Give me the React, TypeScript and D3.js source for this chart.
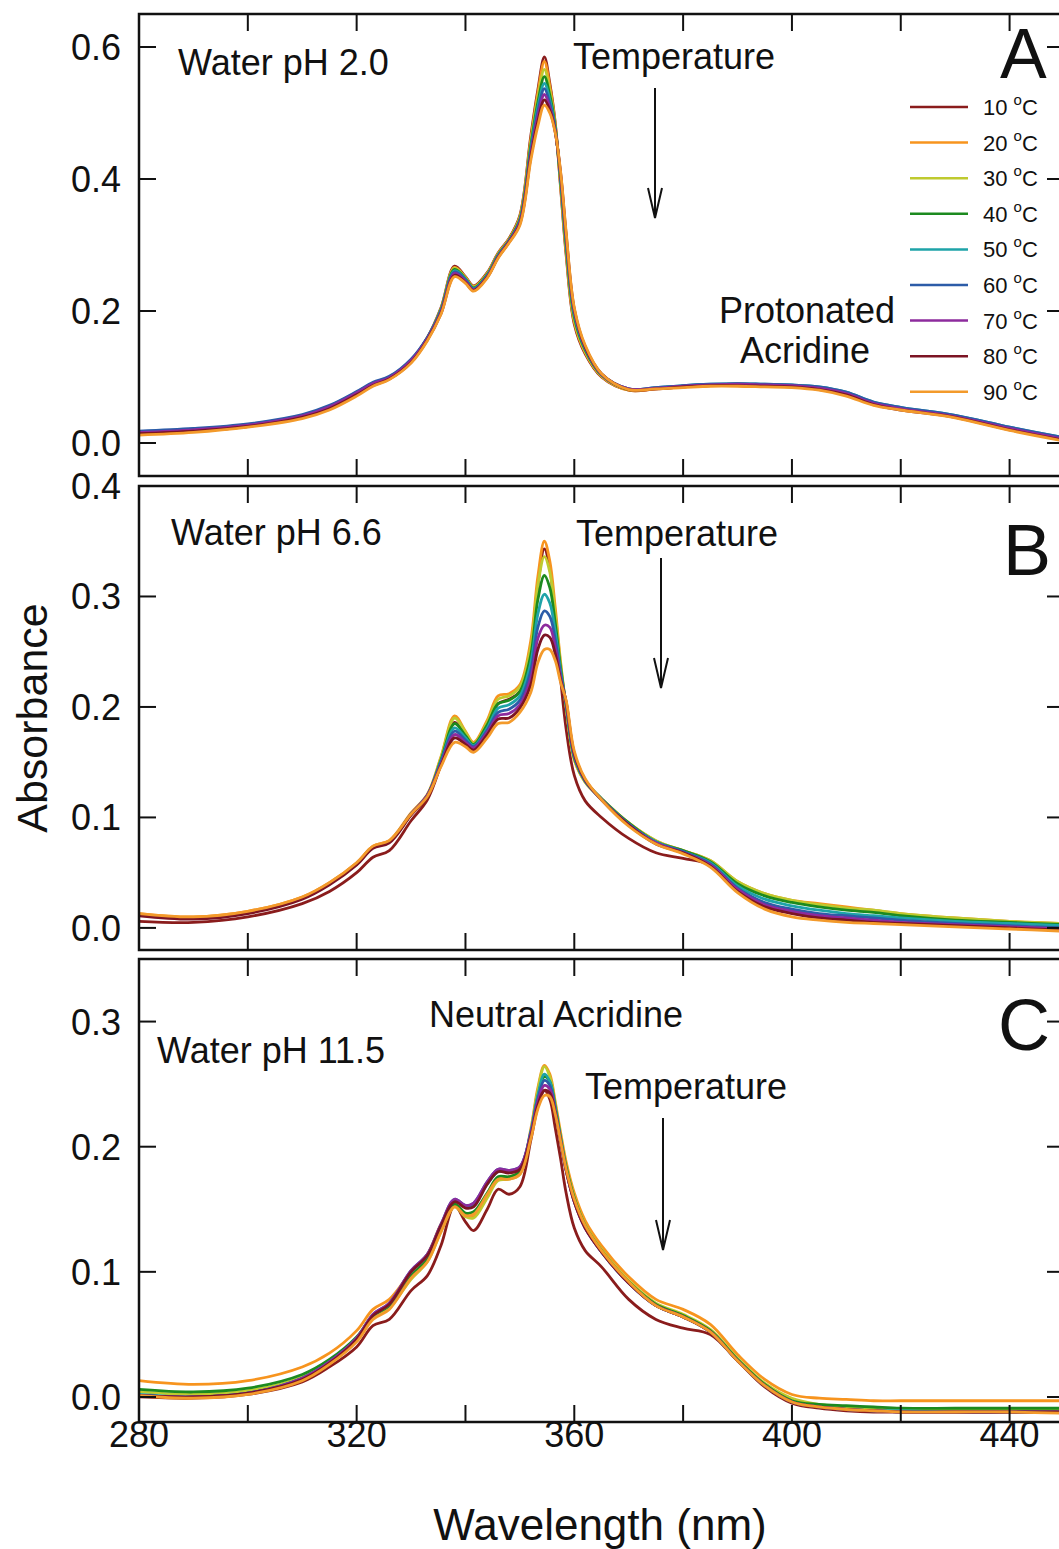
import React from 'react';
import * as d3 from 'd3';

// ---------- data ----------
const WAVELENGTHS = [280, 290, 300, 310, 315, 320, 323, 326, 330, 333, 335.5, 338, 340, 341.5, 344, 346, 348, 350, 352, 353.3, 354.5, 355.5, 356.5, 357.5, 358.5, 360, 362, 365, 370, 375, 380, 385, 390, 395, 400, 405, 410, 415, 420, 430, 440, 450];

const TEMPERATURES = ['10', '20', '30', '40', '50', '60', '70', '80', '90'];
const TEMP_COLORS = ['#8a1c1c', '#f7941e', '#bfca2f', '#1c8a1f', '#1ea3a8', '#2c5ca8', '#8d2b9d', '#7c1424', '#f39a2b'];

const X_TICKS = [300, 320, 340, 360, 380, 400, 420, 440];
const X_TICK_LABELS = [280, 320, 360, 400, 440];

// Panel A: water pH 2.0
const A_10 = [0.016,0.020,0.027,0.041,0.055,0.076,0.090,0.099,0.125,0.160,0.205,0.268,0.252,0.238,0.258,0.288,0.310,0.345,0.465,0.535,0.585,0.545,0.485,0.385,0.285,0.180,0.135,0.100,0.080,0.082,0.085,0.087,0.088,0.087,0.086,0.083,0.075,0.060,0.052,0.040,0.022,0.006];
const A_20 = [0.014,0.018,0.025,0.039,0.053,0.074,0.088,0.097,0.123,0.158,0.203,0.266,0.251,0.237,0.257,0.287,0.309,0.343,0.460,0.530,0.578,0.541,0.483,0.388,0.289,0.183,0.137,0.101,0.080,0.082,0.085,0.087,0.088,0.087,0.086,0.083,0.075,0.060,0.052,0.040,0.022,0.006];
const A_30 = [0.015,0.019,0.026,0.040,0.054,0.075,0.089,0.098,0.124,0.159,0.203,0.265,0.250,0.236,0.256,0.286,0.308,0.341,0.455,0.523,0.566,0.534,0.480,0.392,0.294,0.187,0.139,0.102,0.081,0.083,0.086,0.088,0.089,0.088,0.087,0.084,0.076,0.061,0.053,0.041,0.022,0.006];
const A_40 = [0.016,0.020,0.027,0.041,0.055,0.076,0.090,0.099,0.125,0.159,0.202,0.263,0.249,0.235,0.255,0.285,0.307,0.339,0.450,0.516,0.555,0.527,0.478,0.396,0.299,0.191,0.141,0.103,0.081,0.083,0.086,0.088,0.089,0.088,0.087,0.084,0.076,0.061,0.053,0.041,0.023,0.007];
const A_50 = [0.017,0.021,0.028,0.042,0.056,0.077,0.091,0.100,0.126,0.159,0.201,0.261,0.248,0.234,0.254,0.284,0.306,0.337,0.445,0.509,0.545,0.520,0.476,0.399,0.304,0.195,0.143,0.104,0.082,0.084,0.087,0.089,0.090,0.089,0.088,0.085,0.077,0.062,0.054,0.042,0.024,0.008];
const A_60 = [0.018,0.022,0.029,0.043,0.057,0.078,0.092,0.101,0.127,0.160,0.200,0.259,0.247,0.233,0.253,0.283,0.306,0.336,0.441,0.502,0.537,0.514,0.474,0.402,0.309,0.198,0.144,0.104,0.082,0.084,0.087,0.089,0.090,0.089,0.088,0.085,0.077,0.062,0.054,0.042,0.024,0.008];
const A_70 = [0.016,0.020,0.027,0.041,0.055,0.076,0.090,0.099,0.125,0.158,0.198,0.257,0.245,0.232,0.252,0.282,0.305,0.334,0.437,0.495,0.528,0.508,0.472,0.405,0.313,0.200,0.145,0.104,0.082,0.083,0.086,0.088,0.089,0.088,0.087,0.083,0.075,0.060,0.052,0.040,0.022,0.006];
const A_80 = [0.014,0.018,0.025,0.039,0.052,0.073,0.087,0.097,0.122,0.156,0.196,0.254,0.243,0.231,0.251,0.281,0.304,0.332,0.433,0.487,0.520,0.504,0.471,0.408,0.317,0.203,0.146,0.105,0.081,0.082,0.085,0.087,0.087,0.086,0.085,0.081,0.073,0.058,0.050,0.039,0.020,0.004];
const A_90 = [0.012,0.016,0.024,0.037,0.050,0.071,0.086,0.096,0.121,0.155,0.195,0.252,0.242,0.230,0.250,0.280,0.303,0.330,0.428,0.480,0.512,0.500,0.470,0.410,0.320,0.205,0.148,0.105,0.081,0.082,0.084,0.086,0.086,0.085,0.084,0.080,0.071,0.057,0.050,0.038,0.019,0.003];

// Panel B: water pH 6.6
const B_10 = [0.006,0.005,0.010,0.022,0.033,0.050,0.064,0.070,0.097,0.116,0.148,0.186,0.175,0.166,0.183,0.203,0.207,0.214,0.255,0.310,0.343,0.325,0.280,0.225,0.180,0.138,0.115,0.100,0.081,0.068,0.063,0.057,0.036,0.022,0.015,0.011,0.008,0.006,0.004,0.002,0.000,-0.002];
const B_20 = [0.013,0.010,0.015,0.028,0.041,0.059,0.074,0.079,0.104,0.121,0.155,0.192,0.178,0.168,0.188,0.210,0.212,0.220,0.260,0.318,0.350,0.332,0.290,0.240,0.200,0.152,0.132,0.117,0.095,0.079,0.070,0.061,0.042,0.031,0.025,0.022,0.019,0.016,0.013,0.009,0.006,0.004];
const B_30 = [0.012,0.009,0.014,0.027,0.040,0.058,0.073,0.078,0.103,0.120,0.154,0.190,0.177,0.167,0.186,0.207,0.210,0.218,0.254,0.310,0.336,0.322,0.284,0.238,0.200,0.153,0.132,0.117,0.095,0.079,0.070,0.061,0.042,0.031,0.025,0.021,0.018,0.016,0.013,0.009,0.006,0.004];
const B_40 = [0.012,0.009,0.014,0.027,0.040,0.058,0.073,0.078,0.103,0.120,0.152,0.185,0.174,0.166,0.184,0.203,0.206,0.214,0.247,0.297,0.319,0.308,0.276,0.235,0.201,0.154,0.133,0.117,0.095,0.078,0.070,0.060,0.040,0.029,0.023,0.019,0.016,0.014,0.011,0.007,0.005,0.003];
const B_50 = [0.012,0.009,0.014,0.027,0.040,0.058,0.073,0.078,0.103,0.120,0.151,0.181,0.172,0.165,0.181,0.199,0.202,0.210,0.240,0.284,0.302,0.294,0.268,0.232,0.202,0.155,0.133,0.117,0.094,0.078,0.069,0.059,0.038,0.026,0.020,0.016,0.013,0.011,0.009,0.006,0.004,0.002];
const B_60 = [0.012,0.009,0.014,0.027,0.040,0.058,0.073,0.078,0.103,0.120,0.150,0.178,0.170,0.164,0.179,0.195,0.198,0.206,0.233,0.272,0.287,0.282,0.261,0.229,0.203,0.156,0.133,0.116,0.094,0.077,0.069,0.058,0.036,0.023,0.017,0.013,0.011,0.009,0.007,0.004,0.002,0.000];
const B_70 = [0.012,0.009,0.014,0.027,0.040,0.058,0.073,0.078,0.103,0.120,0.148,0.175,0.168,0.163,0.177,0.192,0.194,0.202,0.226,0.262,0.274,0.272,0.254,0.226,0.204,0.157,0.134,0.116,0.093,0.077,0.068,0.057,0.035,0.021,0.015,0.011,0.009,0.007,0.005,0.003,0.001,-0.001];
const B_80 = [0.011,0.008,0.013,0.026,0.039,0.057,0.072,0.077,0.102,0.119,0.147,0.172,0.166,0.161,0.175,0.189,0.190,0.199,0.220,0.252,0.265,0.263,0.248,0.224,0.205,0.158,0.134,0.116,0.093,0.076,0.068,0.056,0.033,0.019,0.013,0.009,0.007,0.005,0.004,0.002,0.000,-0.002];
const B_90 = [0.013,0.010,0.015,0.028,0.041,0.059,0.074,0.079,0.103,0.119,0.146,0.168,0.164,0.159,0.172,0.185,0.186,0.195,0.213,0.240,0.252,0.252,0.242,0.222,0.206,0.160,0.135,0.116,0.092,0.076,0.067,0.055,0.032,0.017,0.010,0.007,0.005,0.004,0.003,0.001,-0.001,-0.003];

// Panel C: water pH 11.5
const C_10 = [0.000,-0.001,0.002,0.012,0.024,0.040,0.057,0.062,0.085,0.097,0.121,0.153,0.140,0.133,0.150,0.166,0.162,0.168,0.205,0.232,0.245,0.238,0.215,0.190,0.163,0.135,0.117,0.104,0.078,0.062,0.055,0.050,0.029,0.008,-0.005,-0.009,-0.011,-0.012,-0.012,-0.012,-0.012,-0.012];
const C_20 = [0.013,0.010,0.013,0.024,0.035,0.053,0.070,0.078,0.100,0.114,0.138,0.154,0.146,0.144,0.160,0.175,0.176,0.180,0.214,0.247,0.265,0.258,0.236,0.211,0.188,0.163,0.141,0.121,0.096,0.078,0.070,0.058,0.034,0.014,0.002,-0.001,-0.002,-0.003,-0.003,-0.003,-0.003,-0.003];
const C_30 = [0.004,0.002,0.005,0.016,0.028,0.046,0.063,0.071,0.094,0.108,0.132,0.152,0.144,0.143,0.159,0.173,0.174,0.178,0.212,0.245,0.264,0.256,0.234,0.208,0.185,0.160,0.138,0.118,0.093,0.075,0.066,0.054,0.031,0.011,-0.001,-0.006,-0.008,-0.009,-0.010,-0.010,-0.010,-0.010];
const C_40 = [0.006,0.004,0.007,0.018,0.030,0.048,0.065,0.073,0.097,0.110,0.134,0.154,0.147,0.148,0.163,0.176,0.176,0.180,0.210,0.240,0.256,0.252,0.232,0.207,0.184,0.159,0.137,0.117,0.092,0.074,0.065,0.053,0.030,0.010,-0.003,-0.006,-0.007,-0.008,-0.009,-0.009,-0.009,-0.009];
const C_50 = [0.002,0.000,0.003,0.015,0.028,0.047,0.065,0.074,0.100,0.113,0.137,0.157,0.152,0.154,0.170,0.180,0.180,0.183,0.212,0.241,0.258,0.252,0.231,0.206,0.182,0.157,0.136,0.116,0.091,0.073,0.064,0.052,0.029,0.009,-0.004,-0.008,-0.010,-0.011,-0.011,-0.012,-0.012,-0.012];
const C_60 = [0.001,0.000,0.003,0.015,0.028,0.047,0.066,0.075,0.101,0.114,0.138,0.158,0.153,0.155,0.172,0.182,0.181,0.184,0.211,0.238,0.253,0.249,0.229,0.205,0.181,0.156,0.135,0.116,0.091,0.073,0.064,0.052,0.029,0.009,-0.004,-0.008,-0.010,-0.011,-0.012,-0.012,-0.012,-0.012];
const C_70 = [0.001,0.000,0.003,0.015,0.028,0.047,0.066,0.075,0.101,0.114,0.138,0.158,0.153,0.155,0.172,0.182,0.181,0.184,0.210,0.236,0.249,0.246,0.228,0.204,0.181,0.156,0.135,0.116,0.091,0.073,0.064,0.052,0.029,0.009,-0.004,-0.008,-0.010,-0.011,-0.012,-0.012,-0.012,-0.012];
const C_80 = [0.001,0.000,0.003,0.014,0.027,0.046,0.065,0.074,0.100,0.113,0.137,0.156,0.151,0.152,0.170,0.180,0.179,0.182,0.208,0.233,0.245,0.243,0.227,0.204,0.181,0.156,0.135,0.116,0.091,0.073,0.064,0.052,0.029,0.009,-0.004,-0.008,-0.010,-0.011,-0.012,-0.012,-0.012,-0.012];
const C_90 = [0.001,-0.001,0.002,0.013,0.026,0.044,0.062,0.070,0.095,0.108,0.132,0.152,0.145,0.146,0.162,0.174,0.174,0.178,0.206,0.230,0.241,0.240,0.226,0.204,0.182,0.158,0.137,0.117,0.092,0.073,0.064,0.052,0.029,0.009,-0.004,-0.008,-0.010,-0.011,-0.012,-0.012,-0.012,-0.013];

const A_TICKS = [0, 0.2, 0.4, 0.6];
const B_TICKS = [0, 0.1, 0.2, 0.3, 0.4];
const C_TICKS = [0, 0.1, 0.2, 0.3];

// ---------- layout ----------
const FONT = '"Liberation Sans", Arial, Helvetica, sans-serif';
const W = 1059;
const H = 1549;
const X0 = 139;
const X1 = 1064;
const TICK = 17;

const xScale = d3.scaleLinear().domain([280, 450]).range([X0, X1]);

type PanelDef = {
  id: string;
  top: number;
  bottom: number;
  domain: [number, number];
  ticks: number[];
  series: number[][];
};

const PANELS: PanelDef[] = [
  { id: 'A', top: 14, bottom: 476, domain: [-0.05, 0.65], ticks: A_TICKS, series: [A_10, A_20, A_30, A_40, A_50, A_60, A_70, A_80, A_90] },
  { id: 'B', top: 486, bottom: 950, domain: [-0.02, 0.40], ticks: B_TICKS, series: [B_10, B_20, B_30, B_40, B_50, B_60, B_70, B_80, B_90] },
  { id: 'C', top: 959, bottom: 1422, domain: [-0.02, 0.35], ticks: C_TICKS, series: [C_10, C_20, C_30, C_40, C_50, C_60, C_70, C_80, C_90] },
];

function Arrow({ x, y1, y2 }: { x: number; y1: number; y2: number }) {
  return (
    <g stroke="#111" strokeWidth={2} fill="none">
      <line x1={x} y1={y1} x2={x} y2={y2} />
      <path d={`M${x - 7},${y2 - 30} L${x},${y2} L${x + 7},${y2 - 30}`} />
    </g>
  );
}

function Panel({ p }: { p: PanelDef }) {
  const y = d3.scaleLinear().domain(p.domain).range([p.bottom, p.top]);
  const line = d3
    .line<number>()
    .x((_, i) => xScale(WAVELENGTHS[i]))
    .y((v) => y(v))
    .curve(d3.curveCatmullRom.alpha(0.5));
  const fmt = d3.format('.1f');
  const clipId = `clip-${p.id}`;
  return (
    <g>
      <defs>
        <clipPath id={clipId}>
          <rect x={X0} y={p.top} width={X1 - X0} height={p.bottom - p.top} />
        </clipPath>
      </defs>
      <g clipPath={`url(#${clipId})`}>
        {p.series.map((s, i) => (
          <path key={i} d={line(s) || ''} fill="none" stroke={TEMP_COLORS[i]} strokeWidth={2.8} strokeLinejoin="round" />
        ))}
      </g>
      <rect x={X0} y={p.top} width={X1 - X0} height={p.bottom - p.top} fill="none" stroke="#111" strokeWidth={2.5} />
      {X_TICKS.map((t) => (
        <g key={t} stroke="#111" strokeWidth={2}>
          <line x1={xScale(t)} x2={xScale(t)} y1={p.top} y2={p.top + TICK} />
          <line x1={xScale(t)} x2={xScale(t)} y1={p.bottom} y2={p.bottom - TICK} />
        </g>
      ))}
      {p.ticks.map((t) => (
        <g key={t}>
          <line x1={X0} x2={X0 + TICK} y1={y(t)} y2={y(t)} stroke="#111" strokeWidth={2} />
          <line x1={X1} x2={X1 - TICK} y1={y(t)} y2={y(t)} stroke="#111" strokeWidth={2} />
          <text x={121} y={y(t)} dy="0.36em" textAnchor="end" fontSize={36} fontFamily={FONT} fill="#111">
            {fmt(t)}
          </text>
        </g>
      ))}
    </g>
  );
}

export default function App() {
  const legendY = (i: number) => 107 + i * 35.6;
  return (
    <svg
      width={W}
      height={H}
      viewBox={`0 0 ${W} ${H}`}
      style={{ position: 'absolute', left: 0, top: 0, background: '#fff' }}
    >
      <rect x={0} y={0} width={W} height={H} fill="#fff" />
      {PANELS.map((p) => (
        <Panel key={p.id} p={p} />
      ))}

      {/* x tick labels */}
      {X_TICK_LABELS.map((t) => (
        <text key={t} x={xScale(t)} y={1447} textAnchor="middle" fontSize={36} fontFamily={FONT} fill="#111">
          {t}
        </text>
      ))}
      <text x={600} y={1540} textAnchor="middle" fontSize={44} fontFamily={FONT} fill="#111">
        Wavelength (nm)
      </text>
      <text
        transform="translate(47,718) rotate(-90)"
        textAnchor="middle"
        fontSize={43}
        fontFamily={FONT}
        fill="#111"
      >
        Absorbance
      </text>

      {/* Panel A annotations */}
      <text x={178} y={75} fontSize={36} fontFamily={FONT} fill="#111">Water pH 2.0</text>
      <text x={674} y={69} textAnchor="middle" fontSize={36} fontFamily={FONT} fill="#111">Temperature</text>
      <Arrow x={655} y1={88} y2={218} />
      <text x={1000} y={78} fontSize={70} fontFamily={FONT} fill="#111">A</text>
      <text x={807} y={323} textAnchor="middle" fontSize={36} fontFamily={FONT} fill="#111">Protonated</text>
      <text x={805} y={363} textAnchor="middle" fontSize={36} fontFamily={FONT} fill="#111">Acridine</text>
      {TEMPERATURES.map((t, i) => (
        <g key={t}>
          <line x1={910} x2={968} y1={legendY(i)} y2={legendY(i)} stroke={TEMP_COLORS[i]} strokeWidth={2.5} />
          <text x={983} y={legendY(i) + 8} fontSize={22} fontFamily={FONT} fill="#111">
            {t}{' '}
            <tspan fontSize={15} dy={-10}>o</tspan>
            <tspan dy={10}>C</tspan>
          </text>
        </g>
      ))}

      {/* Panel B annotations */}
      <text x={171} y={545} fontSize={36} fontFamily={FONT} fill="#111">Water pH 6.6</text>
      <text x={677} y={546} textAnchor="middle" fontSize={36} fontFamily={FONT} fill="#111">Temperature</text>
      <Arrow x={661} y1={558} y2={688} />
      <text x={1003} y={575} fontSize={72} fontFamily={FONT} fill="#111">B</text>

      {/* Panel C annotations */}
      <text x={556} y={1027} textAnchor="middle" fontSize={36} fontFamily={FONT} fill="#111">Neutral Acridine</text>
      <text x={157} y={1063} fontSize={36} fontFamily={FONT} fill="#111">Water pH 11.5</text>
      <text x={686} y={1099} textAnchor="middle" fontSize={36} fontFamily={FONT} fill="#111">Temperature</text>
      <Arrow x={663} y1={1118} y2={1250} />
      <text x={998} y={1050} fontSize={72} fontFamily={FONT} fill="#111">C</text>
    </svg>
  );
}
